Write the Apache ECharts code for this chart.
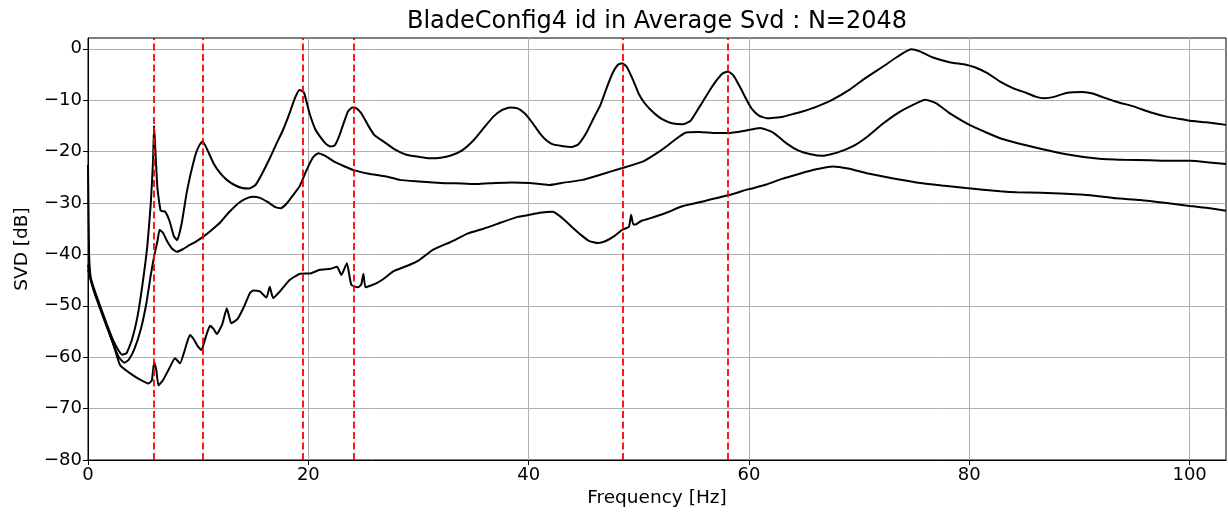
<!DOCTYPE html>
<html>
<head>
<meta charset="utf-8">
<script src="https://cdn.jsdelivr.net/npm/echarts@6/dist/echarts.min.js"></script>
<style>
html,body{margin:0;padding:0;background:#fff;}
#chart{width:1228px;height:513px;}
</style>
</head>
<body>
<div id="chart"></div>
<script>
// ---- data ----
const titleText = 'BladeConfig4 id in Average Svd : N=2048';
const xTicks = [0, 20, 40, 60, 80, 100];
const yTicks = [-80, -70, -60, -50, -40, -30, -20, -10, 0];
const modeFreqs = [6.0, 10.4, 19.45, 24.1, 48.5, 58.1];

const freqA = [
  0, 0.1, 0.25, 0.6, 1.1, 1.7, 2.3, 2.8, 3.1, 3.5,
  4.0, 4.5, 5.0, 5.4, 5.7, 5.9, 6.0, 6.1, 6.3, 6.6,
  7.0, 7.4, 7.8, 8.1, 8.5, 9.0, 9.7, 10.1, 10.4, 10.8,
  11.4, 12.0, 12.6, 13.3, 14.0, 14.6, 15.2, 15.8, 16.5, 17.1,
  17.7, 18.3, 18.8, 19.2, 19.6, 20.1, 20.6, 21.1, 21.6, 22.0,
  22.4, 22.8, 23.2, 23.6, 24.0, 24.3, 24.8, 25.4, 26.0, 26.8,
  27.8, 28.9, 30.0, 31.0, 32.0, 33.0, 34.0, 35.0, 36.0, 36.8,
  37.6, 38.3, 39.0, 39.6, 40.2, 41.0, 41.6, 42.2, 43.0, 43.9,
  44.5, 45.2, 45.9, 46.5, 47.1, 47.6, 48.1, 48.5, 48.9, 49.5,
  50.0, 50.5, 51.0, 51.6, 52.2, 53.0, 54.0, 54.7, 55.3, 55.8,
  56.4, 57.0, 57.6, 58.1, 58.6, 59.2, 59.8, 60.3, 60.9, 61.6,
  62.3, 63.1, 64.0, 65.0, 66.1, 67.5, 69.1, 70.5, 72.2, 73.5,
  74.7, 75.5, 76.7, 78.2, 79.7, 80.5, 81.6, 82.8, 84.0, 85.2,
  86.0, 86.8, 87.6, 88.8, 90.3, 91.2, 92.1, 93.5, 94.9, 96.5,
  97.9, 99.0, 100.0, 101.5, 103.3
];
const svdA = [
  -22.6, -40, -44.5, -47, -50, -53.5, -56.8, -58.8, -59.5, -59.2,
  -56.5, -52, -45, -38, -30, -22, -15, -19, -27, -31.5,
  -31.7, -33.5, -36.5, -37.2, -34, -27.5, -21, -18.8, -18.0, -19.5,
  -22.3, -24.2, -25.5, -26.5, -27.1, -27.2, -26.5, -24.3, -21.3, -18.5,
  -15.8, -12.5, -9.5, -8.0, -8.5, -12.5, -15.5, -17.2, -18.5, -19.0,
  -18.8, -17.0, -14.5, -12.2, -11.4, -11.5, -12.5, -14.8, -16.8, -18.0,
  -19.5, -20.6, -21.0, -21.3, -21.2, -20.7, -19.7, -17.8, -15.2, -13.2,
  -11.9, -11.4, -11.6, -12.5, -14.0, -16.4, -17.8, -18.6, -18.9, -19.1,
  -18.6, -16.5, -13.5, -11.0, -7.5, -4.8, -3.1, -2.8, -3.5, -6.2,
  -8.8, -10.5, -11.7, -12.9, -13.8, -14.5, -14.7, -14.0, -12.0, -10.3,
  -8.2, -6.3, -4.8, -4.4, -5.2, -7.5, -10.0, -11.8, -13.0, -13.5,
  -13.4, -13.2, -12.7, -12.1, -11.3, -10.0, -8.0, -5.8, -3.4, -1.5,
  -0.1, -0.5, -1.7, -2.6, -3.1, -3.6, -4.7, -6.4, -7.7, -8.6,
  -9.3, -9.6, -9.4, -8.6, -8.4, -8.7, -9.4, -10.4, -11.2, -12.4,
  -13.2, -13.6, -14.0, -14.3, -14.8
];

const freqB = [
  0, 0.25, 0.6, 1.1, 1.7, 2.3, 2.8, 3.3, 3.7, 4.2,
  4.8, 5.3, 5.7, 6.0, 6.3, 6.5, 6.8, 7.2, 7.6, 8.05,
  8.6, 9.2, 9.8, 10.5, 11.2, 12.0, 12.8, 13.8, 14.5, 15.0,
  15.6, 16.3, 17.0, 17.5, 18.0, 18.6, 19.2, 19.8, 20.4, 20.9,
  21.5, 22.3, 23.2, 24.1, 25.5, 27.0, 28.3, 30.0, 32.0, 34.0,
  35.3, 37.0, 38.5, 40.1, 41.0, 41.9, 43.0, 44.9, 46.5, 48.5,
  50.4, 51.5, 52.5, 53.4, 54.3, 55.5, 57.0, 58.1, 59.5, 61.0,
  62.2, 63.4, 64.5, 65.6, 66.7, 68.0, 69.4, 70.8, 72.2, 73.5,
  74.8, 76.0, 77.0, 78.2, 80.3, 82.8, 85.8, 88.8, 91.8, 94.0,
  96.4, 98.5, 100.0, 101.8, 103.3
];
const svdB = [
  -42, -45, -47.5, -50.5, -54, -57.5, -60, -61.1, -60.5, -58.5,
  -54.5, -49.5, -44, -40.4, -37.5, -35.2, -35.8, -37.5, -38.8, -39.5,
  -39.0, -38.2, -37.5, -36.5, -35.3, -33.8, -31.8, -29.8, -29.0, -28.8,
  -29.0, -29.8, -30.8, -31.0, -30.2, -28.5, -26.8, -23.8, -21.2, -20.3,
  -20.8, -21.9, -22.8, -23.6, -24.3, -24.8, -25.5, -25.8, -26.1, -26.2,
  -26.3, -26.1, -26.0, -26.1, -26.3, -26.5, -26.1, -25.5, -24.5, -23.2,
  -21.9, -20.5, -19.0, -17.5, -16.3, -16.2, -16.4, -16.4, -16.0, -15.4,
  -16.3, -18.4, -19.8, -20.5, -20.8, -20.2, -19.0, -17.0, -14.5, -12.5,
  -11.0, -9.9, -10.6, -12.5, -15.1, -17.4, -19.1, -20.5, -21.4, -21.6,
  -21.7, -21.8, -21.8, -22.1, -22.4
];

const freqC = [
  0, 0.2, 0.6, 1.1, 1.7, 2.3, 2.9, 3.8, 4.6, 5.5,
  5.8, 6.0, 6.2, 6.4, 6.8, 7.3, 7.9, 8.35, 8.8, 9.25,
  9.6, 10.0, 10.3, 10.7, 11.07, 11.4, 11.7, 12.2, 12.6, 12.8,
  13.0, 13.6, 14.2, 14.7, 15.0, 15.6, 16.2, 16.5, 16.8, 17.5,
  18.3, 19.2, 20.2, 21.05, 22.0, 22.6, 23.0, 23.5, 23.9, 24.5,
  24.8, 25.0, 25.2, 26.2, 27.0, 27.7, 29.0, 30.0, 31.3, 33.0,
  34.5, 35.9, 37.5, 39.0, 40.1, 41.0, 42.2, 42.8, 43.4, 44.0,
  44.8, 45.5, 46.3, 47.0, 47.8, 48.5, 49.1, 49.3, 49.5, 49.7,
  50.2, 51.0, 52.5, 54.0, 56.0, 58.1, 60.0, 61.6, 63.0, 64.6,
  66.0, 67.6, 69.0, 70.7, 73.0, 75.2, 77.5, 79.7, 82.8, 84.3,
  86.5, 88.8, 91.0, 93.3, 95.5, 97.9, 100.0, 101.8, 103.3
];
const svdC = [
  -43, -44.5, -47.5, -50.5, -54, -57.5, -61.5, -63.1, -64.2, -65.1,
  -64.5, -61, -62.5, -65.5, -64.5, -62.5, -60.2, -61.2, -58.5, -55.7,
  -56.5, -58.0, -58.6, -56.0, -53.9, -54.5, -55.5, -53.5, -50.5, -52.0,
  -53.4, -52.5, -50.0, -47.5, -47.0, -47.2, -48.4, -46.3, -48.5, -47.0,
  -45.0, -43.8, -43.7, -43.0, -42.8, -42.4, -44.0, -41.7, -45.9, -46.4,
  -45.9, -43.8, -46.4, -45.6, -44.5, -43.3, -42.2, -41.2, -39.1, -37.5,
  -35.9, -35.0, -33.8, -32.7, -32.3, -31.9, -31.7, -32.5, -33.6, -34.8,
  -36.3, -37.4, -37.8, -37.4, -36.4, -35.2, -34.6, -32.3, -34.2, -34.2,
  -33.5, -33.0, -31.9, -30.6, -29.6, -28.5, -27.3, -26.4, -25.3, -24.3,
  -23.5, -22.9, -23.3, -24.2, -25.2, -26.0, -26.6, -27.1, -27.7, -27.9,
  -28.0, -28.2, -28.5, -29.1, -29.4, -30.0, -30.6, -31.0, -31.5
];

// ---- chart ----
const FONT = 'DejaVu Sans';
const zip = (xs, ys) => xs.map((x, i) => [x, ys[i]]);
const minus = v => String(v).replace('-', '\u2212');

function curve(name, xs, ys) {
  return {
    name: name, type: 'line', data: zip(xs, ys),
    showSymbol: false, symbol: 'none', smooth: 0.15,
    lineStyle: { color: '#000', width: 2 },
    z: 3, silent: true
  };
}

const chart = echarts.init(document.getElementById('chart'), null, { renderer: 'canvas' });
chart.setOption({
  animation: false,
  backgroundColor: '#fff',
  title: {
    text: titleText,
    left: 657, top: 10, padding: 0, textAlign: 'center',
    textStyle: { fontFamily: FONT, fontSize: 24, fontWeight: 'normal', color: '#000' }
  },
  grid: {
    left: 88, right: 2, top: 38, bottom: 53,
    show: true, borderColor: '#000', borderWidth: 1, backgroundColor: 'transparent'
  },
  xAxis: {
    type: 'value', min: 0, max: 103.3, interval: 20,
    name: 'Frequency [Hz]', nameLocation: 'middle', nameGap: 28,
    nameTextStyle: { fontFamily: FONT, fontSize: 18.5, color: '#000' },
    axisLine: { show: true, onZero: false, lineStyle: { color: '#000', width: 1 } },
    axisTick: { show: true, length: 5, customValues: xTicks, lineStyle: { color: '#000', width: 1 } },
    axisLabel: { customValues: xTicks, fontFamily: FONT, fontSize: 18, color: '#000', margin: 6,
      formatter: v => minus(v) },
    splitLine: { show: true, lineStyle: { color: '#b0b0b0', width: 1 } }
  },
  yAxis: {
    type: 'value', min: -80, max: 2.1, interval: 10,
    name: 'SVD [dB]', nameLocation: 'middle', nameGap: 56, nameRotate: 90,
    nameTextStyle: { fontFamily: FONT, fontSize: 18.5, color: '#000' },
    axisLine: { show: true, onZero: false, lineStyle: { color: '#000', width: 1 } },
    axisTick: { show: true, length: 5, customValues: yTicks, lineStyle: { color: '#000', width: 1 } },
    axisLabel: { customValues: yTicks, fontFamily: FONT, fontSize: 18, color: '#000', margin: 6,
      formatter: v => minus(v) },
    splitLine: { show: true, lineStyle: { color: '#b0b0b0', width: 1 } }
  },
  series: [
    curve('A', freqA, svdA),
    curve('B', freqB, svdB),
    curve('C', freqC, svdC),
    {
      name: 'modes', type: 'line', data: [], z: 5, silent: true,
      markLine: {
        silent: true, symbol: 'none', animation: false,
        label: { show: false },
        lineStyle: { color: '#ff0000', width: 1.8, type: [7, 3.5] },
        emphasis: { disabled: true },
        data: modeFreqs.map(f => ({ xAxis: f }))
      }
    }
  ]
});
</script>
</body>
</html>
